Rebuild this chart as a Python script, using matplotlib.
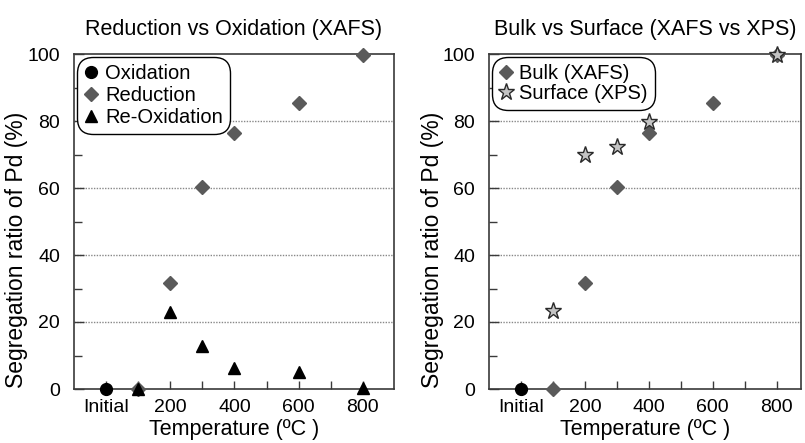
import matplotlib
matplotlib.use("Agg")
import matplotlib.pyplot as plt
from matplotlib.ticker import FixedLocator

plt.rcParams["font.family"] = ["Liberation Sans", "DejaVu Sans"]

# temperatures in degC ("Initial" = as-prepared sample)
oxidation_temp = ["Initial"]
oxidation_val = [0]
reduction_temp = [100, 200, 300, 400, 600, 800]
reduction_val = [0, 31.7, 60.3, 76.5, 85.5, 99.7]
reoxidation_temp = [100, 200, 300, 400, 600, 800]
reoxidation_val = [0, 23.0, 12.8, 6.3, 5.1, 0.4]
surface_temp = [100, 200, 300, 400, 800]
surface_val = [23.3, 70.0, 72.2, 79.8, 99.6]

tick_labels = ["Initial", "200", "400", "600", "800"]
tick_temps = ["Initial", 200, 400, 600, 800]


def pos(temps):
    # "Initial" sits one step left of 100 degC on the category axis
    return [0 if t == "Initial" else t / 100 for t in temps]


SPINE = "#3a3a3a"
DIAMOND = "#5a5a5a"


def style_axes(ax, xmax, label_x):
    ax.set_xlim(-1, xmax)
    ax.set_ylim(0, 100)
    ax.set_yticks([0, 20, 40, 60, 80, 100])
    ax.yaxis.set_minor_locator(FixedLocator([10, 30, 50, 70, 90]))
    ax.set_xticks(pos(tick_temps))
    ax.set_xticklabels(tick_labels)
    ax.xaxis.set_minor_locator(FixedLocator([1, 3, 5, 7]))
    ax.tick_params(axis="both", which="both", direction="in", color=SPINE,
                   labelsize=14, width=1.0)
    ax.tick_params(axis="y", which="major", length=7, pad=10)
    ax.tick_params(axis="y", which="minor", length=6)
    ax.tick_params(axis="x", which="major", length=6, pad=7)
    ax.tick_params(axis="x", which="minor", length=6)
    for s in ax.spines.values():
        s.set_color(SPINE)
        s.set_linewidth(1.2)
    for y in [20, 40, 60, 80]:
        ax.axhline(y, color="#888888", lw=1.0, ls=(0, (1, 1)), zorder=0)
    ax.set_xlabel("Temperature (ºC )", fontsize=15.5, labelpad=2)
    ax.set_ylabel("Segregation ratio of Pd (%)", fontsize=16.5)
    ax.yaxis.set_label_coords(label_x, 0.415)


fig = plt.figure(figsize=(8.05, 4.43), dpi=100)
ax1 = fig.add_axes([74 / 805, 1 - 389 / 443, 320 / 805, 335 / 443])
ax2 = fig.add_axes([489 / 805, 1 - 389 / 443, 312 / 805, 335 / 443])

# left: reduction vs oxidation
style_axes(ax1, 8.97, -0.145)
ax1.plot(pos(oxidation_temp), oxidation_val, "o", color="black", ms=8.5,
         label="Oxidation", clip_on=False, zorder=3)
ax1.plot(pos(reduction_temp), reduction_val, "D", color=DIAMOND, ms=6.8,
         label="Reduction", clip_on=False, zorder=3)
ax1.plot(pos(reoxidation_temp), reoxidation_val, "^", color="black", ms=9,
         label="Re-Oxidation", clip_on=False, zorder=4)
ax1.set_title("Reduction vs Oxidation (XAFS)", fontsize=15.5, pad=14)
leg1 = ax1.legend(loc="upper left", bbox_to_anchor=(0.0, 1.0), fontsize=14.5,
                  handlelength=0.7, handletextpad=0.35, borderpad=0.15,
                  labelspacing=0.14, borderaxespad=0.35, fancybox=True,
                  framealpha=1, edgecolor="black")
leg1.get_frame().set_linewidth(1.0)
leg1.get_frame().set_boxstyle("round,pad=0.2,rounding_size=0.8")

# right: bulk vs surface
style_axes(ax2, 8.76, -0.145)
ax2.plot(pos(oxidation_temp), oxidation_val, "o", color="black", ms=8.5,
         clip_on=False, zorder=3)
ax2.plot(pos(reduction_temp), reduction_val, "D", color=DIAMOND, ms=6.8,
         label="Bulk (XAFS)", clip_on=False, zorder=3)
ax2.plot(pos(surface_temp), surface_val, "*", mfc="#c4c4c4", mec="#2a2a2a",
         mew=1.0, ms=12.5, label="Surface (XPS)", clip_on=False, zorder=4)
ax2.set_title("Bulk vs Surface (XAFS vs XPS)", fontsize=15.5, pad=14)
leg2 = ax2.legend(loc="upper left", bbox_to_anchor=(0.0, 1.0), fontsize=14.5,
                  handlelength=0.7, handletextpad=0.3, borderpad=0.15,
                  labelspacing=0.05, borderaxespad=0.35, fancybox=True,
                  framealpha=1, edgecolor="black")
leg2.get_frame().set_linewidth(1.0)
leg2.get_frame().set_boxstyle("round,pad=0.2,rounding_size=0.8")

fig.savefig("out.png", dpi=100)
